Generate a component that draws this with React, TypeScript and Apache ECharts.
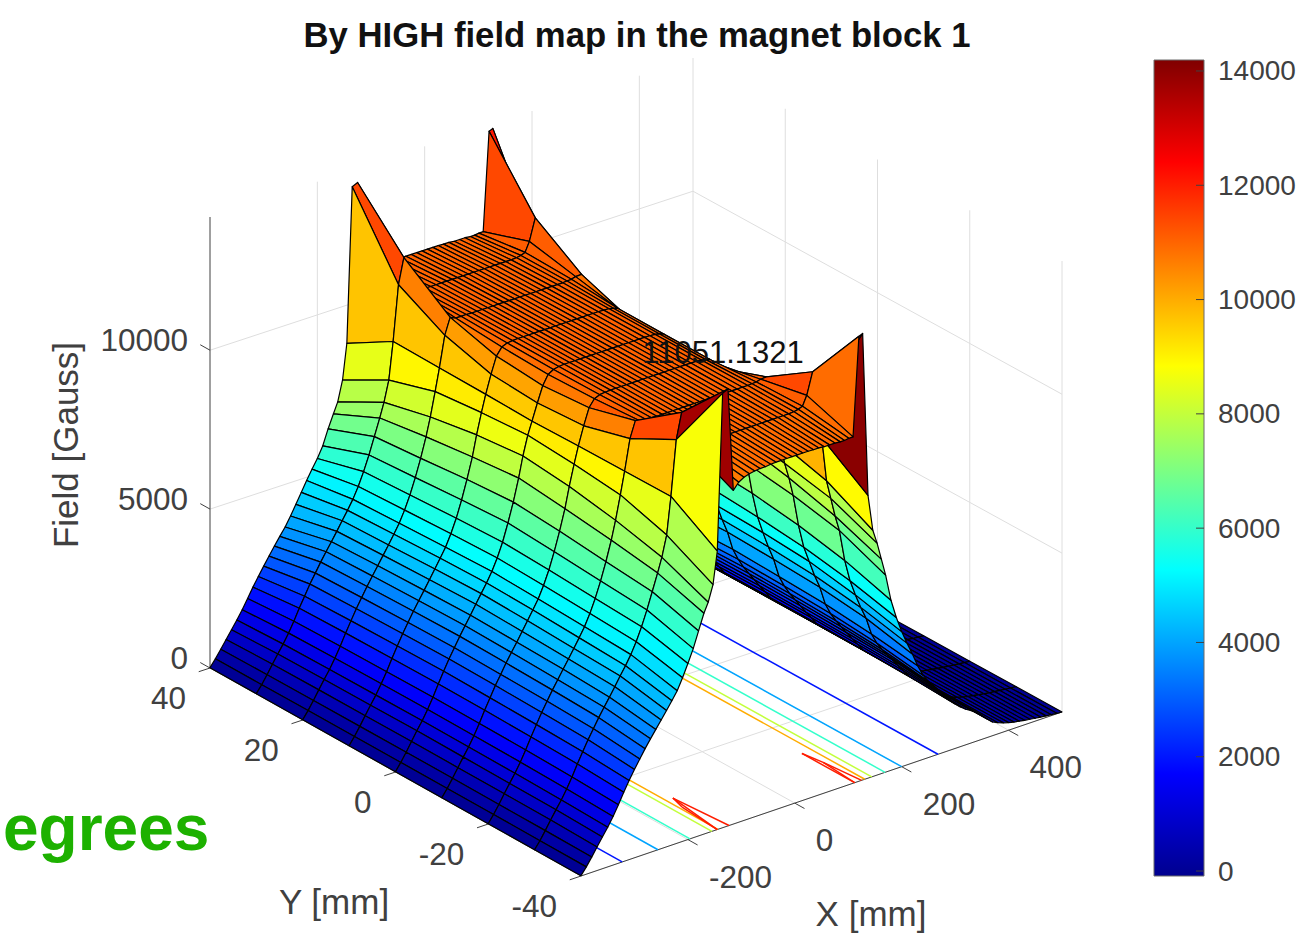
import React, { useEffect, useRef } from "react";
import * as echarts from "echarts";

const titleText = "By HIGH field map in the magnet block 1";
const xTicks = [-200, 0, 200, 400];
const yTicks = [40, 20, 0, -20, -40];
const zTicks = [0, 5000, 10000];
const colorTicks = [0, 2000, 4000, 6000, 8000, 10000, 12000, 14000];
const xRange = [-400, 500];
const yRange = [-40, 40];
const zRange = [0, 14192];
const colorRange = [-87, 14192];
const yNodes = [-40, -30, -20, -10, 0, 10, 20, 30, 40];

// X [mm], then By at |Y| = 0, 10, 20, 30, 40 mm
const fieldTable: number[][] = [
  [-400, 10, 10, 10, 10, 10],
  [-390, 245, 243, 240, 236, 230],
  [-380, 510, 505, 500, 495, 480],
  [-370, 790, 785, 780, 770, 740],
  [-360, 1070, 1060, 1050, 1035, 1000],
  [-350, 1330, 1320, 1310, 1290, 1250],
  [-340, 1630, 1620, 1605, 1580, 1530],
  [-330, 1960, 1945, 1930, 1900, 1840],
  [-320, 2320, 2305, 2285, 2250, 2180],
  [-310, 2660, 2640, 2615, 2575, 2490],
  [-300, 2990, 2970, 2940, 2900, 2780],
  [-290, 3290, 3265, 3235, 3190, 3050],
  [-280, 3590, 3565, 3530, 3480, 3320],
  [-270, 3870, 3840, 3800, 3750, 3570],
  [-260, 4140, 4110, 4070, 4010, 3810],
  [-250, 4430, 4390, 4340, 4280, 4050],
  [-240, 4710, 4670, 4610, 4560, 4290],
  [-230, 4990, 4950, 4890, 4830, 4540],
  [-220, 5290, 5240, 5180, 5120, 4800],
  [-210, 5660, 5610, 5540, 5470, 5150],
  [-200, 6100, 6040, 5960, 5880, 5540],
  [-190, 6650, 6560, 6450, 6350, 5950],
  [-180, 7250, 7150, 7000, 6870, 6450],
  [-170, 7950, 7800, 7620, 7400, 6950],
  [-162, 8600, 8450, 8200, 7850, 7250],
  [-153, 9200, 9100, 8950, 8500, 7750],
  [-145, 9600, 9630, 9650, 9670, 8760],
  [-135, 10116, 10210, 10620, 11400, 13670],
  [-125, 10600, 10720, 11130, 12200, 13750],
  [-115, 10900, 10950, 11050, 11200, 10500],
  [-105, 11000, 11020, 11050, 11050, 10700],
  [-95, 11040, 11040, 11050, 11000, 10800],
  [-85, 11051, 11050, 11040, 11010, 10850],
  [-75, 11051, 11050, 11040, 11010, 10880],
  [-65, 11051, 11050, 11040, 11010, 10900],
  [-55, 11051, 11050, 11040, 11010, 10900],
  [-45, 11051, 11050, 11040, 11010, 10920],
  [-35, 11051, 11050, 11040, 11010, 10930],
  [-25, 11051, 11050, 11040, 11010, 10930],
  [-15, 11051, 11050, 11040, 11010, 10930],
  [-5, 11051, 11050, 11040, 11010, 10930],
  [5, 11051, 11050, 11040, 11010, 10930],
  [15, 11051, 11050, 11040, 11010, 10930],
  [25, 11051, 11050, 11040, 11010, 10930],
  [35, 11051, 11050, 11040, 11010, 10920],
  [45, 11051, 11050, 11040, 11010, 10920],
  [55, 11051, 11050, 11040, 11010, 10900],
  [65, 11051, 11050, 11040, 11010, 10900],
  [75, 11045, 11045, 11040, 11010, 10900],
  [85, 11030, 11030, 11040, 11020, 10880],
  [93, 11000, 11000, 11050, 11050, 10880],
  [101, 10950, 10960, 11060, 11100, 10900],
  [109, 10700, 10800, 11100, 11400, 10900],
  [120, 10380, 10575, 11110, 12080, 14000],
  [127, 10100, 10250, 10600, 11000, 14050],
  [137, 9700, 9750, 9800, 9900, 8900],
  [146, 9100, 9000, 8900, 8500, 7750],
  [154, 8600, 8500, 8200, 7900, 7300],
  [162, 8100, 8000, 7700, 7300, 6750],
  [170, 7400, 7300, 7100, 6800, 6200],
  [180, 6400, 6300, 6100, 5800, 5350],
  [190, 5600, 5500, 5350, 5100, 4750],
  [200, 5000, 4950, 4850, 4600, 4250],
  [210, 4500, 4450, 4350, 4150, 3830],
  [220, 4050, 4000, 3920, 3750, 3430],
  [230, 3450, 3400, 3340, 3200, 3000],
  [240, 3080, 3040, 2980, 2860, 2650],
  [250, 2780, 2750, 2700, 2600, 2400],
  [260, 2520, 2500, 2450, 2370, 2200],
  [270, 2270, 2250, 2210, 2150, 2000],
  [280, 2020, 2000, 1970, 1920, 1800],
  [290, 1780, 1770, 1740, 1700, 1600],
  [300, 1540, 1530, 1510, 1480, 1400],
  [310, 1360, 1350, 1340, 1310, 1250],
  [320, 1210, 1200, 1190, 1170, 1120],
  [330, 1090, 1085, 1080, 1060, 1020],
  [340, 960, 955, 950, 935, 900],
  [350, 800, 795, 790, 780, 750],
  [360, 615, 610, 605, 600, 580],
  [370, 455, 450, 445, 440, 430],
  [380, 365, 363, 360, 356, 350],
  [390, 300, 298, 296, 293, 290],
  [400, 250, 248, 246, 244, 240],
  [410, 208, 207, 205, 203, 200],
  [420, 175, 174, 173, 172, 170],
  [430, 145, 144, 143, 142, 140],
  [440, 118, 118, 117, 116, 115],
  [450, 92, 92, 91, 91, 90],
  [460, 72, 72, 71, 71, 70],
  [470, 52, 52, 51, 51, 50],
  [480, 32, 32, 31, 31, 30],
  [490, 16, 16, 16, 15, 15],
  [500, 2, 2, 1, 1, 0],
];

// The edge at Y = +40 on the front flank, read separately from its silhouette
const edgeFrontX = [-390, -380, -370, -360, -350, -340, -330, -320, -310, -300, -290, -280, -270, -260, -250, -240, -230, -220, -210, -200, -190, -180, -170, -162, -153, -145];
const edgeFrontField = [235, 480, 730, 980, 1230, 1500, 1800, 2100, 2380, 2650, 2910, 3170, 3420, 3660, 3950, 4260, 4580, 4900, 5200, 5480, 5820, 6300, 6720, 7050, 7690, 8800];

// Floor contours: level, X of the front flank, X of the back flank
const contourLevels = [2000, 4000, 6000, 8000, 10000];
const contourFrontX = [-323, -256, -196, -155, -144];
const contourBackX = [268, 200, 169, 144, 131];
const contourTopLevel = 12000;
const contourTopFront = [[-145, -40], [-139, -31.7], [-131, -28.8], [-123, -40]];
const contourTopBack = [[112, -40], [112, -28.6], [118, -32.5], [125, -40]];

const FONT = "'Liberation Sans', Arial, Helvetica, sans-serif";
const GREY = "#404040";
const GRID = "#dedede";

// Screen corners of the floor of the plot box
const cornerA = [210, 668]; // X min, Y max
const cornerB = [581, 876]; // X min, Y min
const cornerC = [1062, 712]; // X max, Y min
const cornerD = [693, 509]; // X max, Y max
const zHeight = 451;

function project(x: number, y: number, z: number): number[] {
  const u = (x - xRange[0]) / (xRange[1] - xRange[0]);
  const v = (y - yRange[0]) / (yRange[1] - yRange[0]);
  const sx = cornerB[0] * (1 - u) * (1 - v) + cornerC[0] * u * (1 - v) + cornerA[0] * (1 - u) * v + cornerD[0] * u * v;
  const sy = cornerB[1] * (1 - u) * (1 - v) + cornerC[1] * u * (1 - v) + cornerA[1] * (1 - u) * v + cornerD[1] * u * v;
  return [sx, sy - (z / zRange[1]) * zHeight];
}

const jetStops = [
  [0, 0, 0, 143],
  [0.125, 0, 0, 255],
  [0.375, 0, 255, 255],
  [0.625, 255, 255, 0],
  [0.875, 255, 0, 0],
  [1, 128, 0, 0],
];

function jet(value: number): string {
  const t = Math.max(0, Math.min(1, (value - colorRange[0]) / (colorRange[1] - colorRange[0])));
  for (let k = 1; k < jetStops.length; k++) {
    if (t <= jetStops[k][0]) {
      const a = jetStops[k - 1];
      const b = jetStops[k];
      const f = (t - a[0]) / (b[0] - a[0]);
      const c = [1, 2, 3].map((n) => Math.round(a[n] + (b[n] - a[n]) * f));
      return `rgb(${c[0]},${c[1]},${c[2]})`;
    }
  }
  return "rgb(128,0,0)";
}

const xNodes = fieldTable.map((r) => r[0]);
const fieldAt = (i: number, j: number) => {
  if (yNodes[j] === 40) {
    const k = edgeFrontX.indexOf(xNodes[i]);
    if (k >= 0) return edgeFrontField[k];
  }
  return fieldTable[i][1 + Math.abs(yNodes[j]) / 10];
};

// Far cells first: the viewer stands on the side of low X and low Y.
function surfaceCells(): number[][] {
  const cells: number[][] = [];
  for (let i = xNodes.length - 2; i >= 0; i--) {
    for (let j = yNodes.length - 2; j >= 0; j--) {
      cells.push([i, j]);
    }
  }
  return cells;
}

type Seg = number[];

function gridSegments(): Seg[] {
  const segs: Seg[] = [];
  const [x0, x1] = xRange;
  const [y0, y1] = yRange;
  const zTop = zRange[1];
  xTicks.forEach((x) => {
    segs.push([x, y0, 0, x, y1, 0]);
    segs.push([x, y1, 0, x, y1, zTop]);
  });
  yTicks.forEach((y) => {
    segs.push([x0, y, 0, x1, y, 0]);
    segs.push([x1, y, 0, x1, y, zTop]);
  });
  zTicks.forEach((z) => {
    segs.push([x0, y1, z, x1, y1, z]);
    segs.push([x1, y1, z, x1, y0, z]);
  });
  return segs;
}

function axisSegments(): Seg[] {
  const segs: Seg[] = [];
  const [x0, x1] = xRange;
  const [y0, y1] = yRange;
  segs.push([x0, y0, 0, x1, y0, 0]);
  segs.push([x0, y0, 0, x0, y1, 0]);
  segs.push([x0, y1, 0, x0, y1, zRange[1]]);
  xTicks.forEach((x) => segs.push([x, y0, 0, x, y0 - 2.1, 0]));
  yTicks.forEach((y) => segs.push([x0, y, 0, x0 - 21, y, 0]));
  zTicks.forEach((z) => segs.push([x0, y1, z, x0, y1 + 2.1, z]));
  return segs;
}

function contourLines(): { value: number[]; level: number }[] {
  const out: { value: number[]; level: number }[] = [];
  contourLevels.forEach((level, k) => {
    [contourFrontX[k], contourBackX[k]].forEach((x) => {
      out.push({ value: [x, yRange[0], 0, x, yRange[1], 0], level });
    });
  });
  [contourTopFront, contourTopBack].forEach((poly) => {
    for (let k = 0; k < poly.length - 1; k++) {
      out.push({ value: [poly[k][0], poly[k][1], 0, poly[k + 1][0], poly[k + 1][1], 0], level: contourTopLevel });
    }
    out.push({ value: [poly[0][0], poly[0][1], 0, poly[2][0], poly[2][1], 0], level: contourTopLevel });
  });
  return out;
}

function segmentSeries(data: any[], z: number, style: (idx: number) => any) {
  return {
    type: "custom",
    coordinateSystem: "cartesian2d",
    xAxisIndex: 0,
    yAxisIndex: 0,
    silent: true,
    z,
    data,
    renderItem: (params: any, api: any) => {
      const a = api.coord(project(api.value(0), api.value(1), api.value(2)));
      const b = api.coord(project(api.value(3), api.value(4), api.value(5)));
      return {
        type: "line",
        shape: { x1: a[0], y1: a[1], x2: b[0], y2: b[1] },
        style: style(params.dataIndex),
      };
    },
  };
}

function buildOption(): any {
  const contours = contourLines();
  const texts: any[] = [];
  const label = (text: string, x: number, y: number, align: string, size: number, extra: any = {}) =>
    texts.push({
      type: "text",
      z: 100,
      x,
      y,
      silent: true,
      style: {
        text,
        x: 0,
        y: 0,
        align,
        verticalAlign: "middle",
        fontFamily: FONT,
        fontSize: size,
        fill: GREY,
        ...(extra.style || {}),
      },
      ...(extra.el || {}),
    });

  zTicks.forEach((z) => {
    const p = project(xRange[0], yRange[1], z);
    label(String(z), 188, p[1] - 10.5, "right", 31.5);
  });
  yTicks.forEach((y) => {
    const p = project(xRange[0], y, 0);
    label(String(y), p[0] - 24, p[1] + 30, "right", 31.5);
  });
  xTicks.forEach((x) => {
    const p = project(x, yRange[0], 0);
    label(String(x), p[0] + 21, p[1] + 37, "left", 31.5);
  });
  label("Y [mm]", 334, 901, "center", 35);
  label("X [mm]", 871, 913, "center", 35);
  label("Field [Gauss]", 65, 445, "center", 35, { el: { rotation: Math.PI / 2 } });
  label("11051.1321", 723, 352, "center", 31, { style: { fill: "#111111" } });
  label("egrees", 3, 828, "left", 64, { style: { fill: "#1db100", fontWeight: "bold" } });

  return {
    animation: false,
    backgroundColor: "#ffffff",
    title: {
      text: titleText,
      left: 632,
      top: 12,
      textAlign: "center",
      textStyle: { fontFamily: FONT, fontSize: 34.7, fontWeight: "bold", color: "#111111" },
    },
    grid: [
      { left: 0, top: 0, width: 1316, height: 938 },
      { left: 1154, top: 60, width: 50, height: 816 },
    ],
    xAxis: [
      { type: "value", gridIndex: 0, min: 0, max: 1316, show: false },
      { type: "value", gridIndex: 1, min: 0, max: 1, show: false },
    ],
    yAxis: [
      { type: "value", gridIndex: 0, min: 0, max: 938, inverse: true, show: false },
      {
        type: "value",
        gridIndex: 1,
        position: "right",
        min: colorRange[0],
        max: colorRange[1],
        splitLine: { show: false },
        axisLine: { show: false },
        axisTick: { show: false },
        axisLabel: {
          show: true,
          margin: 14,
          fontFamily: FONT,
          fontSize: 28,
          color: GREY,
          customValues: colorTicks,
          formatter: (v: number) => String(v),
        },
      },
    ],
    graphic: { elements: texts },
    series: [
      {
        type: "custom",
        coordinateSystem: "cartesian2d",
        xAxisIndex: 1,
        yAxisIndex: 1,
        silent: true,
        z: 1,
        data: [[0, colorRange[0], 1, colorRange[1]]],
        renderItem: (_p: any, api: any) => {
          const a = api.coord([api.value(0), api.value(3)]);
          const b = api.coord([api.value(2), api.value(1)]);
          const colorStops = jetStops
            .map((s) => ({ offset: 1 - s[0], color: `rgb(${s[1]},${s[2]},${s[3]})` }))
            .reverse();
          return {
            type: "rect",
            shape: { x: a[0], y: a[1], width: b[0] - a[0], height: b[1] - a[1] },
            style: {
              fill: new echarts.graphic.LinearGradient(0, 0, 0, 1, colorStops),
              stroke: "#6b6b6b",
              lineWidth: 1,
            },
          };
        },
      },
      {
        type: "custom",
        coordinateSystem: "cartesian2d",
        xAxisIndex: 1,
        yAxisIndex: 1,
        silent: true,
        z: 2,
        data: colorTicks.map((v) => [v]),
        renderItem: (_p: any, api: any) => {
          const a = api.coord([1, api.value(0)]);
          return {
            type: "line",
            shape: { x1: a[0] - 8, y1: a[1], x2: a[0], y2: a[1] },
            style: { stroke: GREY, lineWidth: 1 },
          };
        },
      },
      segmentSeries(gridSegments(), 2, () => ({ stroke: GRID, lineWidth: 1 })),
      segmentSeries(axisSegments(), 3, () => ({ stroke: GREY, lineWidth: 1 })),
      segmentSeries(
        contours.map((c) => c.value),
        4,
        (idx) => ({ stroke: jet(contours[idx].level), lineWidth: 1.5 })
      ),
      {
        type: "custom",
        coordinateSystem: "cartesian2d",
        xAxisIndex: 0,
        yAxisIndex: 0,
        silent: true,
        z: 5,
        data: surfaceCells(),
        renderItem: (_p: any, api: any) => {
          const i = api.value(0);
          const j = api.value(1);
          const corners = [
            [i, j],
            [i + 1, j],
            [i + 1, j + 1],
            [i, j + 1],
          ].map(([a, b]) => api.coord(project(xNodes[a], yNodes[b], fieldAt(a, b))));
          return {
            type: "polygon",
            shape: { points: corners },
            style: { fill: jet(fieldAt(i, j)), stroke: "#000000", lineWidth: 1.2, lineJoin: "round" },
          };
        },
      },
    ],
  };
}

export default function App() {
  const ref = useRef<HTMLDivElement>(null);
  useEffect(() => {
    if (!ref.current) return;
    const chart = echarts.init(ref.current, undefined, { renderer: "svg" });
    chart.setOption(buildOption());
    return () => chart.dispose();
  }, []);
  return <div ref={ref} style={{ position: "absolute", left: 0, top: 0, width: 1316, height: 938 }} />;
}
